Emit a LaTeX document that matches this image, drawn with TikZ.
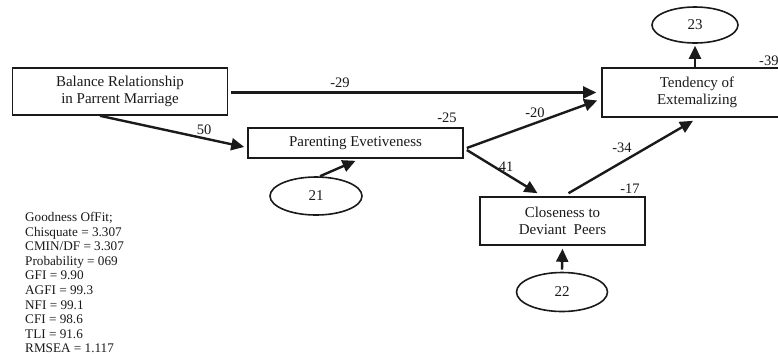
\documentclass[tikz,border=0pt]{standalone}
\usepackage{fontspec}
\setmainfont{Liberation Serif}
\usetikzlibrary{arrows.meta,shapes.geometric,calc}
\definecolor{ink}{HTML}{1A1A1A}
\tikzset{
  boxnode/.style={draw=ink,line width=1.6pt,inner sep=0pt,align=center,
    font=\fontsize{15pt}{17pt}\selectfont,text=ink},
  errnode/.style={draw=ink,ellipse,line width=1.6pt,inner sep=0pt,
    font=\fontsize{15pt}{17pt}\selectfont,text=ink},
  path/.style={draw=ink,line width=2.4pt,-{Triangle[length=13pt,width=12pt]}},
  coef/.style={font=\fontsize{14.5pt}{16pt}\selectfont,text=ink,inner sep=0pt},
  fit/.style={font=\fontsize{13.2pt}{14.6pt}\selectfont,text=ink,inner sep=0pt,align=left}
}
\begin{document}
\begin{tikzpicture}[x=1pt,y=-1pt]
\useasboundingbox (0,0) rectangle (778,360);
\clip (0,0) rectangle (778,360);
\fill[white] (0,0) rectangle (778,360);

% boxes
\node[boxnode,minimum width=215pt,minimum height=47pt] (bal) at (120,91.5)
  {Balance Relationship\\in Parrent Marriage};
\node[boxnode,minimum width=215pt,minimum height=30pt] (par) at (355.5,143)
  {Parenting Evetiveness};
\node[boxnode,minimum width=190pt,minimum height=49pt] (tend) at (697,92.5)
  {Tendency of\\Extemalizing};
\node[boxnode,minimum width=165pt,minimum height=48pt] (clo) at (562.5,221)
  {Closeness to\\Deviant~ Peers};

% error terms
\node[errnode,minimum width=86pt,minimum height=36pt] (e23) at (695,25) {23};
\node[errnode,minimum width=92pt,minimum height=38pt] (e21) at (316,196) {21};
\node[errnode,minimum width=91pt,minimum height=39pt] (e22) at (562,292) {22};

% paths
\draw[path] ($(bal.south)+(-20,0)$) -- ($(par.west)+(-3,4)$);
\draw[path] ($(bal.east)+(3,1)$) -- ($(tend.west)+(-5,0)$);
\draw[path] ($(par.east)+(3,5)$) -- ($(tend.west)+(-4,8)$);
\draw[path] ($(par.east)+(3,7)$) -- ($(clo.north)+(-25,-3)$);
\draw[path] ($(e21.north)+(4,0)$) -- ($(par.south)+(0,2)$);
\draw[path] ($(clo.north)+(6,-3)$) -- ($(tend.south)+(-4,3)$);
\draw[path] ($(e22.north)+(0,-2)$) -- ($(clo.south)+(0,3)$);
\draw[path] ($(tend.north)+(-2,0)$) -- ($(e23.south)+(0,2)$);

% coefficients
\node[coef] (c29) at (340,83) {-29};
\node[coef] (c50) at (204,130) {50};
\node[coef] (c25) at (447,118) {-25};
\node[coef] (c20) at (535,113) {-20};
\node[coef] (c41) at (506,167) {41};
\node[coef] (c34) at (622,148) {-34};
\node[coef] (c17) at (630,189) {-17};
\node[coef,anchor=west] (c39) at (759,61) {-39};

% fit statistics
\node[fit,anchor=north west] (gof) at (25,212) {Goodness OfFit;\\
Chisquate = 3.307\\
CMIN/DF = 3.307\\
Probability = 069\\
GFI = 9.90\\
AGFI = 99.3\\
NFI = 99.1\\
CFI = 98.6\\
TLI = 91.6\\
RMSEA = 1.117};
\end{tikzpicture}
\end{document}
